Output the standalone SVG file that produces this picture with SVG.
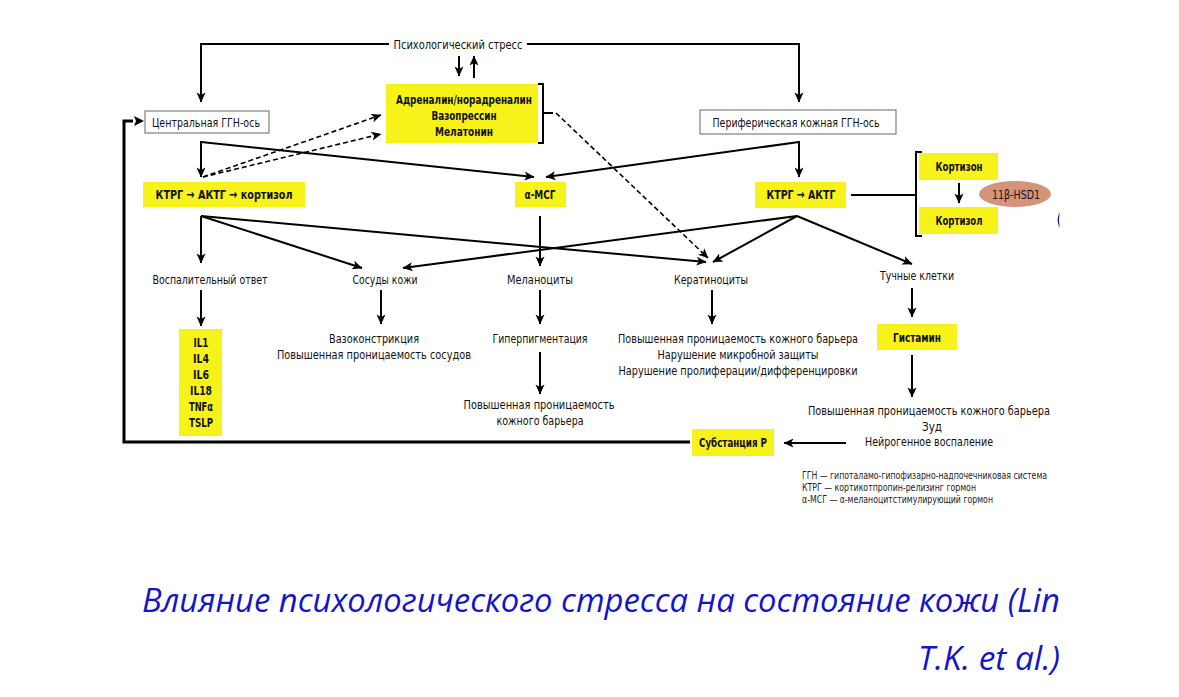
<svg xmlns="http://www.w3.org/2000/svg" width="1179" height="697" viewBox="0 0 1179 697">
<defs>
<marker id="ah" viewBox="0 0 10 10" refX="9.5" refY="5" markerWidth="11" markerHeight="10" markerUnits="userSpaceOnUse" orient="auto"><path d="M0,0.5 L10,5 L0,9.5 L2.5,5 z" fill="#000"/></marker>
<style>
.t{font-family:"DejaVu Sans Condensed","Liberation Sans Narrow","Liberation Sans",sans-serif;font-size:13px;fill:#111;text-anchor:middle}
.b{font-weight:bold}
.lg{font-family:"DejaVu Sans Condensed","Liberation Sans Narrow","Liberation Sans",sans-serif;font-size:10px;fill:#222}
.y{fill:#f7f21a}
.w{fill:#fff;stroke:#666;stroke-width:1}
.c{fill:none;stroke:#000;stroke-width:2}
.a{marker-end:url(#ah)}
.d{fill:none;stroke:#000;stroke-width:1.6;stroke-dasharray:5 3}
.cap{font-family:"Open Sans",sans-serif;font-style:italic;font-size:32px;fill:#1515c8;text-anchor:end}
</style>
</defs>
<rect width="1179" height="697" fill="#fff"/>

<g id="connectors">
<path class="c" d="M389,44 H201 V102" marker-end="url(#ah)"/>
<path class="c" d="M527,44 H799 V102" marker-end="url(#ah)"/>
<path class="c a" d="M459,56 V76"/>
<path class="c a" d="M474,78 V56"/>
<path class="c" d="M201,141 V177" marker-end="url(#ah)"/>
<path class="c a" d="M201,142 L534,177"/>
<path class="d a" d="M203,177 L381,115"/>
<path class="d a" d="M203,177 L381,134"/>
<path class="c" d="M538,84 H543 V143 H538 M543,113 H553"/>
<path class="d a" d="M556,113 L708,258"/>
<path class="c" d="M799,141 V177" marker-end="url(#ah)"/>
<path class="c a" d="M799,142 L546,177"/>
<path class="c" d="M851,195 H916 M922,152 H916 V236 H922"/>
<path class="c a" d="M959,183 V203"/>
<path class="c a" d="M201,216 V263"/>
<path class="c a" d="M201,216 L362,268"/>
<path class="c a" d="M201,216 L706,262"/>
<path class="c a" d="M540,216 V266"/>
<path class="c a" d="M797,216 L403,268"/>
<path class="c a" d="M797,216 L713,262"/>
<path class="c a" d="M797,216 L912,264"/>
<path class="c a" d="M201,290 V326"/>
<path class="c a" d="M381,290 V324"/>
<path class="c a" d="M540,290 V324"/>
<path class="c a" d="M540,352 V394"/>
<path class="c a" d="M712,290 V324"/>
<path class="c a" d="M912,288 V317"/>
<path class="c a" d="M912,355 V397"/>
<path class="c a" d="M846,443 H784"/>
<path fill="none" stroke="#000" stroke-width="3" d="M690,442 H124 V121 H133"/>
<path d="M134,116 L144,121 L134,126 L136,121 z" fill="#000"/>
</g>

<g id="n-stress"><text class="t" x="458" y="49" textLength="129" lengthAdjust="spacingAndGlyphs">Психологический стресс</text></g>
<g id="n-adren">
<rect class="y" x="386" y="84" width="152" height="59"/>
<text class="t b" x="464" y="104" textLength="136" lengthAdjust="spacingAndGlyphs">Адреналин/норадреналин</text>
<text class="t b" x="464" y="120" textLength="65" lengthAdjust="spacingAndGlyphs">Вазопрессин</text>
<text class="t b" x="464" y="136" textLength="58" lengthAdjust="spacingAndGlyphs">Мелатонин</text>
</g>
<g id="n-central"><rect class="w" x="145" y="111" width="124" height="22"/><text class="t" x="206" y="127" textLength="108" lengthAdjust="spacingAndGlyphs">Центральная ГГН-ось</text></g>
<g id="n-periph"><rect class="w" x="700" y="110" width="196" height="24"/><text class="t" x="796" y="127" textLength="167" lengthAdjust="spacingAndGlyphs">Периферическая кожная ГГН-ось</text></g>
<g id="n-ktrg1"><rect class="y" x="143" y="182" width="162" height="25"/><text class="t b" x="224" y="199" textLength="137" lengthAdjust="spacingAndGlyphs">КТРГ → АКТГ → кортизол</text></g>
<g id="n-amsg"><rect class="y" x="515" y="182" width="51" height="25"/><text class="t b" x="540" y="199" textLength="31" lengthAdjust="spacingAndGlyphs">α-МСГ</text></g>
<g id="n-ktrg2"><rect class="y" x="755" y="182" width="91" height="26"/><text class="t b" x="801" y="199" textLength="69" lengthAdjust="spacingAndGlyphs">КТРГ → АКТГ</text></g>
<g id="n-cortizon"><rect class="y" x="919" y="153" width="79" height="27"/><text class="t b" x="959" y="171" textLength="47" lengthAdjust="spacingAndGlyphs">Кортизон</text></g>
<g id="n-cortizol"><rect class="y" x="919" y="207" width="79" height="27"/><text class="t b" x="959" y="225" textLength="47" lengthAdjust="spacingAndGlyphs">Кортизол</text></g>
<g id="n-hsd"><ellipse cx="1015" cy="194" rx="36" ry="13" fill="#d39479"/><text class="t" x="1016" y="199" textLength="48" lengthAdjust="spacingAndGlyphs">11β-HSD1</text></g>
<path d="M1060,212 Q1055,220 1060,228 Q1058,220 1060,212 Z" fill="#1a1aa0"/>

<g id="n-vosp"><text class="t" x="210" y="284" textLength="115" lengthAdjust="spacingAndGlyphs">Воспалительный ответ</text></g>
<g id="n-sosudy"><text class="t" x="385" y="284" textLength="65" lengthAdjust="spacingAndGlyphs">Сосуды кожи</text></g>
<g id="n-melan"><text class="t" x="540" y="284" textLength="66" lengthAdjust="spacingAndGlyphs">Меланоциты</text></g>
<g id="n-kerat"><text class="t" x="711" y="284" textLength="74" lengthAdjust="spacingAndGlyphs">Кератиноциты</text></g>
<g id="n-tuch"><text class="t" x="917" y="280" textLength="74" lengthAdjust="spacingAndGlyphs">Тучные клетки</text></g>

<g id="n-il">
<rect class="y" x="179" y="329" width="43" height="107"/>
<text class="t b" x="201" y="347" textLength="15" lengthAdjust="spacingAndGlyphs">IL1</text>
<text class="t b" x="201" y="363" textLength="16" lengthAdjust="spacingAndGlyphs">IL4</text>
<text class="t b" x="201" y="379" textLength="16" lengthAdjust="spacingAndGlyphs">IL6</text>
<text class="t b" x="201" y="395" textLength="22" lengthAdjust="spacingAndGlyphs">IL18</text>
<text class="t b" x="201" y="411" textLength="24" lengthAdjust="spacingAndGlyphs">TNFα</text>
<text class="t b" x="201" y="427" textLength="24" lengthAdjust="spacingAndGlyphs">TSLP</text>
</g>
<g id="n-vazo">
<text class="t" x="374" y="343" textLength="90" lengthAdjust="spacingAndGlyphs">Вазоконстрикция</text>
<text class="t" x="374" y="359" textLength="194" lengthAdjust="spacingAndGlyphs">Повышенная проницаемость сосудов</text>
</g>
<g id="n-giper"><text class="t" x="540" y="343" textLength="95" lengthAdjust="spacingAndGlyphs">Гиперпигментация</text></g>
<g id="n-pov1">
<text class="t" x="539" y="409" textLength="151" lengthAdjust="spacingAndGlyphs">Повышенная проницаемость</text>
<text class="t" x="540" y="425" textLength="87" lengthAdjust="spacingAndGlyphs">кожного барьера</text>
</g>
<g id="n-kerres">
<text class="t" x="738" y="343" textLength="240" lengthAdjust="spacingAndGlyphs">Повышенная проницаемость кожного барьера</text>
<text class="t" x="738" y="359" textLength="161" lengthAdjust="spacingAndGlyphs">Нарушение микробной защиты</text>
<text class="t" x="738" y="375" textLength="239" lengthAdjust="spacingAndGlyphs">Нарушение пролиферации/дифференцировки</text>
</g>
<g id="n-gist"><rect class="y" x="877" y="324" width="80" height="26"/><text class="t b" x="917" y="342" textLength="48" lengthAdjust="spacingAndGlyphs">Гистамин</text></g>
<g id="n-tuchres">
<text class="t" x="929" y="415" textLength="242" lengthAdjust="spacingAndGlyphs">Повышенная проницаемость кожного барьера</text>
<text class="t" x="932" y="431" textLength="20" lengthAdjust="spacingAndGlyphs">Зуд</text>
<text class="t" x="929" y="446" textLength="128" lengthAdjust="spacingAndGlyphs">Нейрогенное воспаление</text>
</g>
<g id="n-subst"><rect class="y" x="692" y="429" width="82" height="27"/><text class="t b" x="733" y="447" textLength="68" lengthAdjust="spacingAndGlyphs">Субстанция Р</text></g>

<g id="legend">
<text class="lg" x="802" y="479" textLength="245" lengthAdjust="spacingAndGlyphs">ГГН — гипоталамо-гипофизарно-надпочечниковая система</text>
<text class="lg" x="802" y="491" textLength="174" lengthAdjust="spacingAndGlyphs">КТРГ — кортикотпропин-релизинг гормон</text>
<text class="lg" x="802" y="503" textLength="191" lengthAdjust="spacingAndGlyphs">α-МСГ — α-меланоцитстимулирующий гормон</text>
</g>

<g id="caption">
<text class="cap" x="1060" y="612" textLength="918" lengthAdjust="spacingAndGlyphs">Влияние психологического стресса на состояние кожи (Lin</text>
<text class="cap" x="1060" y="670" textLength="142" lengthAdjust="spacingAndGlyphs">T.K. et al.)</text>
</g>
</svg>
